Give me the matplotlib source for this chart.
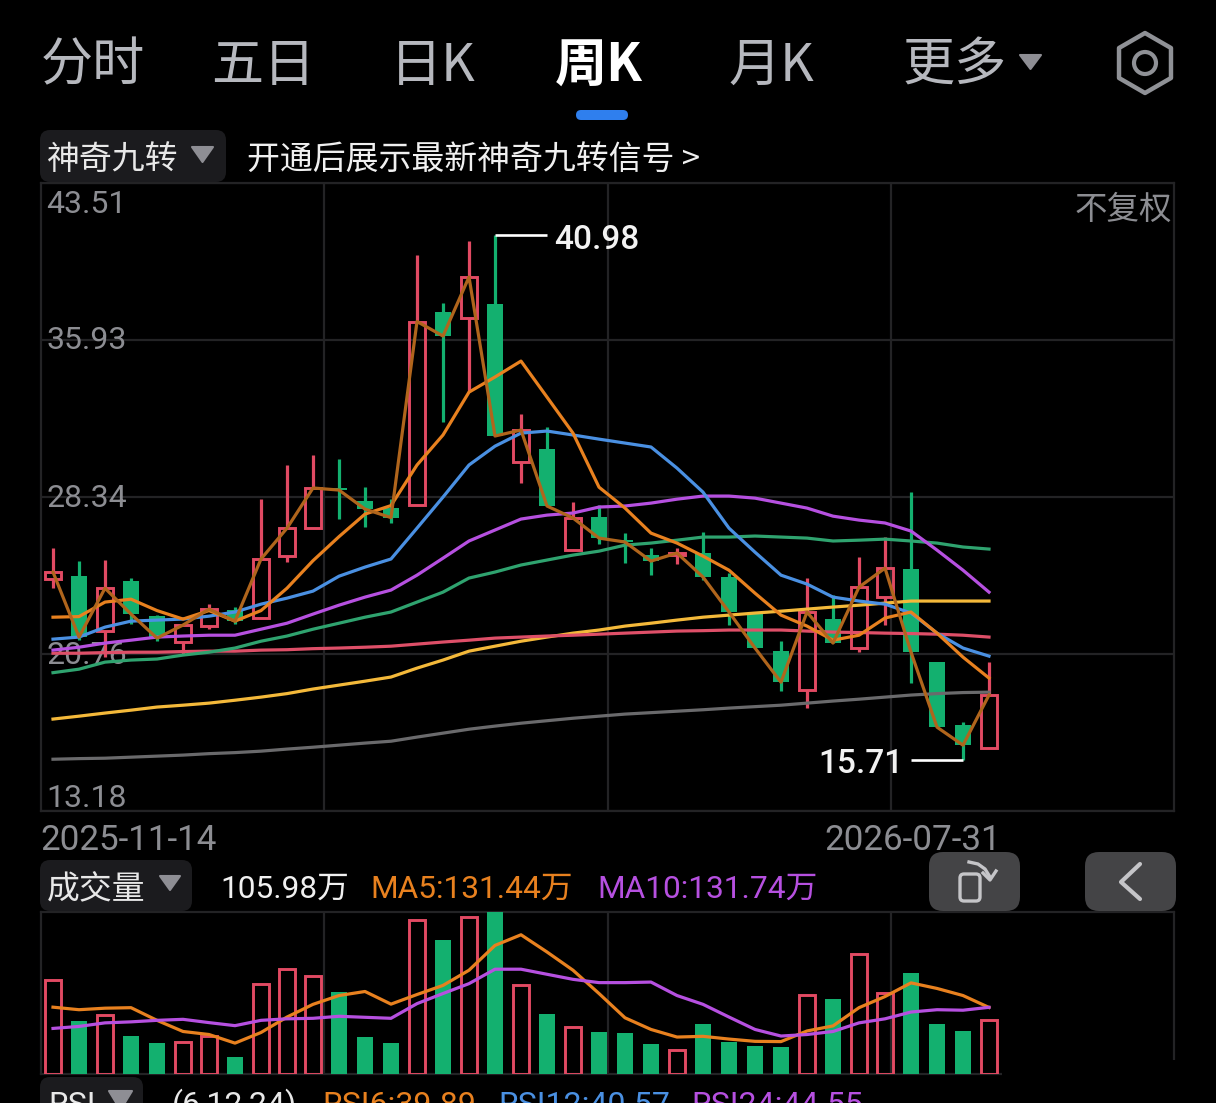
import numpy as np
import matplotlib
matplotlib.use('Agg')
import matplotlib.pyplot as plt
from matplotlib.patches import FancyBboxPatch, RegularPolygon, Circle, Polygon, Rectangle
from matplotlib.transforms import ScaledTranslation

W, H = 1216, 1103
CJK = ['Noto Sans CJK SC', 'DejaVu Sans']
NUM = ['Roboto', 'Noto Sans CJK SC', 'DejaVu Sans']
plt.rcParams['font.family'] = NUM

# weekly candles
opens = [24.38, 24.52, 21.87, 24.28, 22.59, 21.34, 22.11, 22.88, 22.50, 25.49, 26.84, 28.80, 28.15, 27.81, 27.95, 37.28, 36.99, 37.66, 30.03,
         30.66, 25.78, 27.37, 26.26, 25.54, 25.54, 25.64, 24.48, 22.74, 20.90, 19.02, 22.45, 21.05, 23.51, 24.86, 20.37, 17.33, 16.22]
closes = [24.72, 21.58, 23.94, 22.69, 21.53, 22.16, 22.93, 22.35, 25.35, 26.84, 28.78, 28.68, 27.76, 27.35, 36.82, 36.12, 38.97, 31.29, 31.58,
          27.91, 27.33, 26.36, 26.17, 25.25, 25.64, 24.48, 22.79, 21.05, 19.40, 22.79, 21.29, 23.99, 24.91, 20.85, 17.23, 16.36, 18.78]
highs = [25.88, 25.25, 25.32, 24.43, 22.64, 22.21, 23.17, 23.03, 28.26, 29.89, 30.35, 30.18, 28.85, 28.24, 40.03, 37.71, 40.71, 40.98, 32.35,
         31.72, 28.10, 27.95, 26.60, 25.88, 25.88, 26.65, 24.67, 22.79, 21.38, 24.43, 23.61, 25.44, 26.41, 28.58, 20.37, 17.47, 20.37]
lows = [23.94, 21.43, 20.61, 22.21, 21.38, 20.78, 21.96, 22.21, 22.50, 25.20, 26.84, 27.28, 26.89, 27.09, 27.95, 31.96, 33.41, 31.29, 29.02,
        27.91, 25.78, 26.07, 25.15, 24.57, 25.10, 24.33, 22.16, 21.05, 18.97, 18.15, 21.29, 20.85, 22.16, 19.36, 17.23, 15.66, 16.22]

ma5 = [22.54, 22.57, 23.27, 23.41, 22.86, 22.45, 22.86, 22.35, 22.86, 23.94, 25.27, 26.43, 27.52, 27.93, 29.89, 31.34, 33.41, 34.14, 34.91,
       33.17, 31.43, 28.82, 27.81, 26.60, 26.12, 25.49, 24.81, 23.70, 22.64, 22.11, 21.43, 21.67, 22.50, 22.79, 21.77, 20.61, 19.60]
ma10 = [21.48, 21.58, 22.06, 22.35, 22.40, 22.45, 22.59, 22.79, 23.17, 23.46, 23.80, 24.52, 24.96, 25.35, 26.84, 28.34, 29.89, 30.80, 31.43,
        31.53, 31.34, 31.14, 30.95, 30.76, 29.74, 28.58, 26.84, 25.68, 24.57, 24.14, 23.51, 23.32, 23.17, 22.74, 21.77, 21.05, 20.66]
ma20 = [20.95, 21.09, 21.29, 21.43, 21.58, 21.63, 21.67, 21.67, 21.96, 22.25, 22.69, 23.12, 23.51, 23.85, 24.57, 25.39, 26.22, 26.75, 27.28,
        27.47, 27.57, 27.86, 27.91, 28.05, 28.24, 28.39, 28.39, 28.29, 28.05, 27.81, 27.42, 27.23, 27.09, 26.70, 25.78, 24.81, 23.75]
ma30 = [19.86, 20.03, 20.37, 20.47, 20.52, 20.71, 20.85, 21.05, 21.38, 21.63, 21.96, 22.25, 22.54, 22.79, 23.27, 23.75, 24.43, 24.72, 25.06,
        25.30, 25.54, 25.73, 26.02, 26.12, 26.26, 26.41, 26.41, 26.46, 26.41, 26.36, 26.22, 26.26, 26.31, 26.22, 26.12, 25.93, 25.83]
ma60 = [20.80, 20.80, 20.83, 20.85, 20.85, 20.88, 20.90, 20.90, 20.95, 20.97, 21.02, 21.05, 21.09, 21.14, 21.24, 21.34, 21.43, 21.53, 21.58,
        21.63, 21.67, 21.72, 21.77, 21.82, 21.87, 21.89, 21.92, 21.92, 21.92, 21.87, 21.82, 21.80, 21.77, 21.75, 21.72, 21.67, 21.58]
ma120 = [17.62, 17.76, 17.91, 18.05, 18.20, 18.29, 18.39, 18.53, 18.68, 18.85, 19.07, 19.26, 19.45, 19.65, 20.08, 20.47, 20.90, 21.14, 21.38,
         21.58, 21.77, 21.92, 22.11, 22.25, 22.40, 22.54, 22.64, 22.74, 22.83, 22.93, 23.03, 23.12, 23.22, 23.32, 23.32, 23.32, 23.32]
ma250 = [15.68, 15.71, 15.73, 15.78, 15.83, 15.88, 15.95, 16.00, 16.07, 16.17, 16.26, 16.36, 16.46, 16.55, 16.75, 16.94, 17.13, 17.28, 17.42,
         17.54, 17.66, 17.76, 17.86, 17.93, 18.00, 18.07, 18.15, 18.22, 18.29, 18.39, 18.49, 18.58, 18.68, 18.78, 18.85, 18.90, 18.92]

# volume, in 10k shares
volumes = [185, 104.6, 116, 75.8, 62, 62.6, 74.4, 33, 177, 207, 193.5, 162, 73.8, 61, 305, 264.5, 310, 340, 176.5,
           118, 93.6, 83, 80.3, 58.6, 47.4, 98, 62.6, 55.3, 52.7, 156, 147.5, 238, 160, 199.4, 98, 84.3, 105.98]
vol_ma5 = [132, 127, 130, 131, 106, 84, 78, 61, 82, 112.5, 137.6, 155, 163, 138, 157, 175, 205, 254, 275,
           241, 205, 159, 111, 88, 73, 74.4, 69, 64.5, 64, 85, 95, 131, 153, 180, 169, 155, 131.44]
vol_ma10 = [90, 94, 101, 103, 106, 108, 101.5, 95.5, 106, 109, 110, 114, 112, 110, 139, 159, 178.5, 207, 207,
            197, 187, 180.5, 180.5, 181.6, 155, 137.6, 112.5, 88, 75, 78, 84, 101, 109, 122.4, 127, 126, 131.74]

price_ticks = [13.18, 20.76, 28.34, 35.93, 43.51]
dates = ['2025-11-14', '2026-07-31']
max_price = 40.98
min_price = 15.71

BG = '#000000'
GRID = '#232325'
RED = '#E14A63'
GREEN = '#13B06F'
BROWN = '#B0651C'
ORANGE = '#E8811F'
BLUE = '#4A90E2'
PURPLE = '#B650E0'
TEAL = '#2FA36F'
CORAL = '#DE4F68'
YELLOW = '#F4B93A'
GREY = '#6A6A6C'
LABEL = '#8C8D92'
TAB = '#B6B8BE'
PILL = '#1B1B1E'


def px_axes(x0, y0, x1, y1):
    return fig.add_axes([x0 / W, 1 - y1 / H, (x1 - x0) / W, (y1 - y0) / H])


def frame(ax):
    ax.set_facecolor(BG)
    ax.set_xlim((41 - 53) / 26, (1174 - 53) / 26)
    ax.set_axisbelow(True)
    for s in ax.spines.values():
        s.set_color(GRID)
        s.set_linewidth(1.6)
        s.set_zorder(0.5)
    xl = ax.get_xlim()
    ax.set_xticks(np.linspace(xl[0], xl[1], 5)[1:-1])
    ax.set_xticklabels([])
    ax.tick_params(length=0)
    ax.grid(True, color=GRID, linewidth=1.6)


fig = plt.figure(figsize=(W / 100, H / 100), dpi=100, facecolor=BG)

# price panel
ax = px_axes(41, 183, 1174, 811)
frame(ax)
ax.set_ylim(price_ticks[0], price_ticks[-1])
ax.set_yticks(price_ticks)
ax.tick_params(axis='y', pad=-4, labelsize=23, labelcolor=LABEL)
label_shift = [-0.02, 0.02, 0.02, 0.02, -0.07]
for lab, dy in zip(ax.get_yticklabels(), label_shift):
    lab.set_ha('left')
    lab.set_transform(lab.get_transform() + ScaledTranslation(0, dy, fig.dpi_scale_trans))
ax.get_yticklabels()[0].set_va('bottom')
ax.get_yticklabels()[-1].set_va('top')

x = np.arange(len(opens))
o = np.array(opens)
c = np.array(closes)
hi = np.array(highs)
lo = np.array(lows)
up = c >= o
top = np.maximum(o, c)
bot = np.minimum(o, c)

ax.vlines(x[up], top[up], hi[up], color=RED, linewidth=2.3, zorder=1.5)
ax.vlines(x[up], lo[up], bot[up], color=RED, linewidth=2.3, zorder=1.5)
ax.vlines(x[~up], lo[~up], hi[~up], color=GREEN, linewidth=2.3, zorder=1.5)
ax.bar(x[up], (top - bot)[up], 0.64, bottom=bot[up], facecolor='none', edgecolor=RED, linewidth=2.1, zorder=1.6)
ax.bar(x[~up], (top - bot)[~up], 0.62, bottom=bot[~up], color=GREEN, zorder=1.6)

ax.plot(x, ma250, color=GREY, lw=2.3)
ax.plot(x, ma120, color=YELLOW, lw=2.3)
ax.plot(x, ma60, color=CORAL, lw=2.3)
ax.plot(x, ma30, color=TEAL, lw=2.3)
ax.plot(x, ma20, color=PURPLE, lw=2.3)
ax.plot(x, ma10, color=BLUE, lw=2.3)
ax.plot(x, ma5, color=ORANGE, lw=2.3)
ax.plot(x, closes, color=BROWN, lw=2.3)

# high / low callouts
i_max = highs.index(max_price)
ax.plot([i_max, i_max + 2], [max_price, max_price], color='white', lw=1.9, solid_capstyle='butt')
ax.annotate(f'{max_price:.2f}', (i_max + 2.27, max_price), xytext=(0, -3), textcoords='offset points',
            color='#F2F2F2', fontsize=24, fontweight='medium', va='center', ha='left')
i_min = lows.index(min(lows))
ax.plot([i_min - 2, i_min], [min(lows), min(lows)], color='white', lw=1.9, solid_capstyle='butt')
ax.annotate(f'{min_price:.2f}', (i_min - 2.31, min(lows)), xytext=(0, -3), textcoords='offset points',
            color='#F2F2F2', fontsize=24, fontweight='medium', va='center', ha='right')

# volume panel
ax2 = px_axes(41, 912, 1174, 1074)
frame(ax2)
ax2.set_ylim(0, 320)
ax2.set_yticks([])
v = np.array(volumes)
ax2.bar(x[up], v[up], 0.64, facecolor='none', edgecolor=RED, linewidth=2.1, zorder=1.6)
ax2.bar(x[~up], v[~up], 0.62, color=GREEN, zorder=1.6)
ax2.plot(x, vol_ma5, color=ORANGE, lw=2.3)
ax2.plot(x, vol_ma10, color=PURPLE, lw=2.3)

# everything around the charts, in pixel coordinates
ov = fig.add_axes([0, 0, 1, 1], zorder=5)
ov.set_xlim(0, W)
ov.set_ylim(H, 0)
ov.axis('off')
ov.patch.set_alpha(0)


def pill(x0, y0, x1, y1, color, r=10):
    ov.add_patch(FancyBboxPatch((x0, y0), x1 - x0, y1 - y0, boxstyle=f'round,pad=0,rounding_size={r}',
                                facecolor=color, edgecolor='none'))


def tri(x0, x1, y0, y1, color='#8E8E94'):
    ov.add_patch(Polygon([(x0, y0), (x1, y0), ((x0 + x1) / 2, y1)], closed=True, facecolor=color,
                         edgecolor=color, linewidth=1.5, joinstyle='round'))


tabs = [('分时', 41, TAB, 'normal'), ('五日', 211, TAB, 'normal'), ('日K', 390, TAB, 'normal'),
        ('周K', 555, 'white', 'bold'), ('月K', 728, TAB, 'normal'), ('更多', 903, TAB, 'normal')]
for name, tx, col, wt in tabs:
    ov.text(tx, 66, name, color=col, fontsize=37.5, fontweight=wt, family=CJK, ha='left', va='center')
tri(1020, 1041, 55, 69)
ov.add_patch(RegularPolygon((1145, 63), 6, radius=30, facecolor='none', edgecolor='#8F9196', linewidth=3.2, joinstyle='round'))
ov.add_patch(Circle((1145, 63), 11, facecolor='none', edgecolor='#8F9196', linewidth=3))
pill(576, 110, 628, 120, '#2F7FEE', r=5)

pill(40, 130, 226, 182, PILL)
ov.text(47, 160, '神奇九转', color='#E8E8E8', fontsize=23.7, family=CJK, ha='left', va='center')
tri(192, 213, 147, 162)
ov.text(247, 160, '开通后展示最新神奇九转信号 >', color='#F0F0F0', fontsize=23.7, family=CJK, ha='left', va='center')
ov.text(1172, 210, '不复权', color=LABEL, fontsize=23.4, family=CJK, ha='right', va='center')

ov.text(40, 841, dates[0], color=LABEL, fontsize=25.2, ha='left', va='center')
ov.text(1001, 841, dates[1], color=LABEL, fontsize=25.2, ha='right', va='center')

pill(40, 860, 192, 911, PILL)
ov.text(47, 890, '成交量', color='#E8E8E8', fontsize=23.7, family=CJK, ha='left', va='center')
tri(160, 180, 876, 890)
ov.text(220, 889, '105.98万', color='#F0F0F0', fontsize=22.8, ha='left', va='center')
ov.text(370, 889, 'MA5:131.44万', color=ORANGE, fontsize=22.8, ha='left', va='center')
ov.text(597, 889, 'MA10:131.74万', color=PURPLE, fontsize=22.8, ha='left', va='center')

pill(929, 852, 1020, 911, '#444446', r=14)
pill(1085, 852, 1176, 911, '#444446', r=14)
ov.add_patch(FancyBboxPatch((960, 874), 20, 27, boxstyle='round,pad=0,rounding_size=4', facecolor='none',
                            edgecolor='#C5C5C8', linewidth=2.4))
ov.plot([969, 978, 985, 990], [862, 864, 869, 877], color='#C5C5C8', lw=2.4)
ov.plot([983, 990, 996], [873, 880, 871], color='#C5C5C8', lw=2.4)
ov.plot([1140, 1121, 1140], [864, 882, 899], color='#C5C5C8', lw=3, solid_capstyle='round')

# the source hides the corner under a blur
ov.add_patch(Rectangle((1002, 1060), 190, 18, facecolor=BG, edgecolor='none'))

pill(40, 1077, 143, 1125, PILL)
ov.text(48, 1105, 'RSI', color='#E8E8E8', fontsize=23, ha='left', va='center')
tri(109, 132, 1091, 1110)
ov.text(172, 1105, '(6,12,24)', color='#E8E8E8', fontsize=23, ha='left', va='center')
ov.text(322, 1105, 'RSI6:39.89', color=ORANGE, fontsize=23, ha='left', va='center')
ov.text(498, 1105, 'RSI12:40.57', color=BLUE, fontsize=23, ha='left', va='center')
ov.text(691, 1105, 'RSI24:44.55', color=PURPLE, fontsize=23, ha='left', va='center')

fig.savefig('out.png', dpi=100, facecolor=BG)
